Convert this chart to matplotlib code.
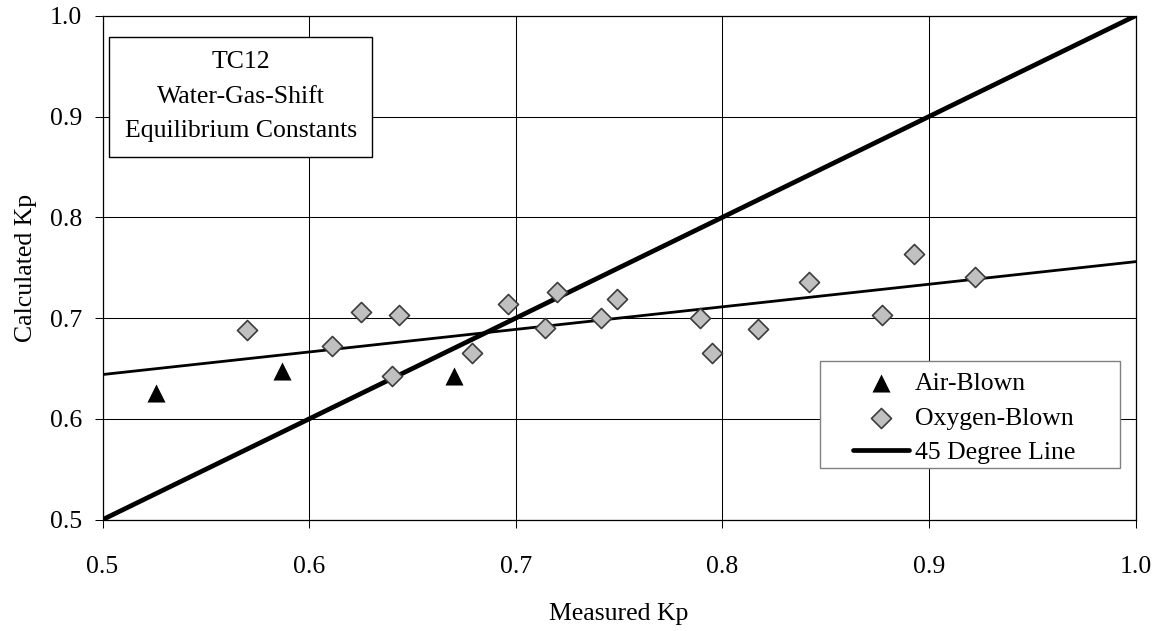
import numpy as np
import matplotlib.pyplot as plt
from matplotlib.patches import Rectangle
from matplotlib.ticker import FormatStrFormatter, MultipleLocator

plt.rcParams["font.family"] = ["Liberation Serif", "DejaVu Serif"]

# measured vs calculated Kp
air_measured = [0.526, 0.587, 0.670]
air_calculated = [0.626, 0.648, 0.643]

oxy_measured = [0.570, 0.611, 0.625, 0.6435, 0.640, 0.679, 0.696, 0.714, 0.720,
                0.741, 0.749, 0.789, 0.795, 0.817, 0.842, 0.877, 0.8925, 0.922]
oxy_calculated = [0.688, 0.672, 0.706, 0.703, 0.643, 0.665, 0.714, 0.690, 0.726,
                  0.700, 0.719, 0.700, 0.665, 0.689, 0.736, 0.703, 0.764, 0.741]

# linear trendline end points (as drawn in the original)
trend_x = [0.5, 1.0]
trend_y = [0.644, 0.756]

diag_x = [0.5, 1.0]
diag_y = [0.5, 1.0]

FS = 18.5
W, H = 1161, 631
fig = plt.figure(figsize=(W / 100, H / 100), dpi=100)
ax = fig.add_axes([102.5 / W, 1 - 519.7 / H, 1033.2 / W, 504 / H])

ax.plot(trend_x, trend_y, color="black", linewidth=2.0, zorder=3)
diag_line, = ax.plot(diag_x, diag_y, color="black", linewidth=3.4,
                     solid_capstyle="round", zorder=3, label="45 Degree Line")
air = ax.scatter(air_measured, air_calculated, marker="^", s=13 ** 2,
                 color="black", linewidths=0, zorder=4, label="Air-Blown")
oxy = ax.scatter(oxy_measured, oxy_calculated, marker="D", s=10.2 ** 2,
                 facecolor="#c0c0c0", edgecolor="#3c3c3c", linewidths=1.2,
                 zorder=4, label="Oxygen-Blown")

ax.set_xlim(0.5, 1.0)
ax.set_ylim(0.5, 1.0)
ax.xaxis.set_major_locator(MultipleLocator(0.1))
ax.yaxis.set_major_locator(MultipleLocator(0.1))
ax.xaxis.set_major_formatter(FormatStrFormatter("%.1f"))
ax.yaxis.set_major_formatter(FormatStrFormatter("%.1f"))
ax.tick_params(axis="both", direction="out", length=5.8, width=0.75,
               labelsize=FS, color="black")
ax.tick_params(axis="x", pad=20)
ax.tick_params(axis="y", pad=9)
ax.grid(True, color="black", linewidth=0.75)
ax.set_axisbelow(True)
for sp in ax.spines.values():
    sp.set_linewidth(0.9)
    sp.set_color("black")

ax.set_xlabel("Measured Kp", fontsize=FS)
ax.xaxis.set_label_coords(0.5, -0.165)
ax.set_ylabel("Calculated Kp", fontsize=FS)
ax.yaxis.set_label_coords(-0.063, 0.5)

# title box in the upper left corner
box = Rectangle((0.0066, 0.7202), 0.2545, 0.2381, transform=ax.transAxes,
                facecolor="white", edgecolor="black", linewidth=1.0, zorder=5)
ax.add_artist(box)
for txt, yb in [("TC12", 0.8956), ("Water-Gas-Shift", 0.8268),
                ("Equilibrium Constants", 0.7593)]:
    ax.text(0.134, yb, txt, transform=ax.transAxes, ha="center", va="baseline",
            fontsize=FS, zorder=6)

# legend, with a hand-placed frame
frame = Rectangle((820 / W, 1 - 468.3 / H), 300 / W, 107.3 / H,
                  transform=fig.transFigure, facecolor="white",
                  edgecolor="#808080", linewidth=1.0, zorder=6, clip_on=False)
ax.add_artist(frame)
leg = ax.legend([air, oxy, diag_line], ["Air-Blown", "Oxygen-Blown", "45 Degree Line"],
                loc="upper left", bbox_to_anchor=(853 / W, 1 - 372 / H),
                bbox_transform=fig.transFigure, frameon=False, borderpad=0,
                borderaxespad=0, handlelength=2.18, handletextpad=0.23,
                labelspacing=0.45, fontsize=FS, scatterpoints=1)
leg.set_zorder(7)

fig.savefig("out.png", dpi=100)
